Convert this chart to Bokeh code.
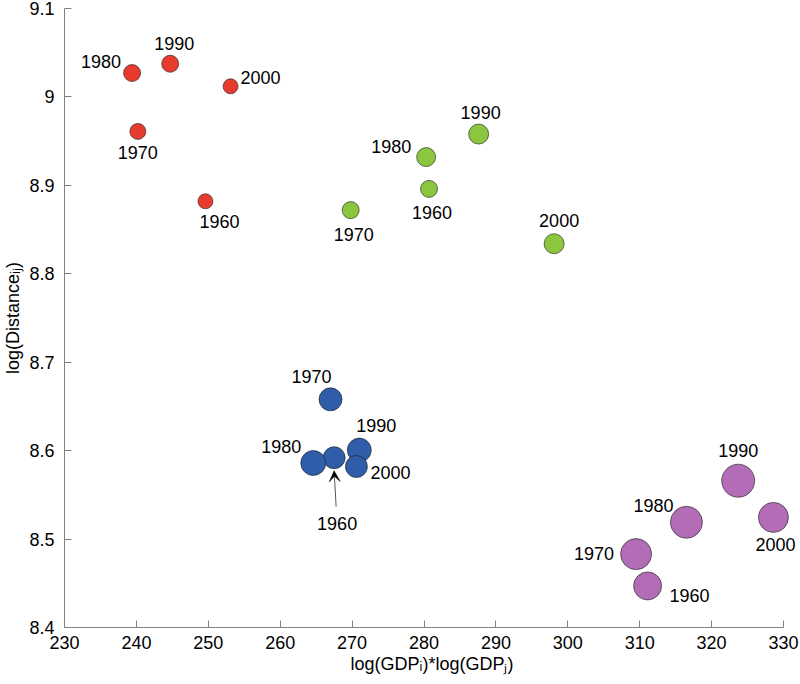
from bokeh.plotting import figure
from bokeh.models import (ColumnDataSource, LabelSet, FixedTicker,
                          Range1d, Arrow, VeeHead)
from bokeh.core.properties import value
from bokeh.embed import file_html
from bokeh.resources import INLINE

# ---------------- data ----------------
years = ["1960", "1970", "1980", "1990", "2000"]

red_x = [249.6, 240.2, 239.4, 244.7, 253.1]
red_y = [8.882, 8.961, 9.027, 9.0375, 9.012]
red_size = [15, 16, 17, 17, 15]

green_x = [280.7, 269.8, 280.3, 287.6, 298.1]
green_y = [8.896, 8.872, 8.932, 8.958, 8.834]
green_size = [17, 17, 19, 20, 20]

blue_x = [267.5, 267.0, 264.6, 271.0, 270.6]
blue_y = [8.592, 8.658, 8.586, 8.6006, 8.582]
blue_size = [22, 23, 25, 24, 22]

purple_x = [311.1, 309.5, 316.5, 323.7, 328.6]
purple_y = [8.447, 8.483, 8.519, 8.566, 8.5245]
purple_size = [28, 31, 32, 33, 30]

x_ticks = [230, 240, 250, 260, 270, 280, 290, 300, 310, 320, 330]
x_tick_labels = ["230", "240", "250", "260", "270", "280", "290", "300", "310", "320", "330"]
y_ticks = [8.4, 8.5, 8.6, 8.7, 8.8, 8.9, 9.0, 9.1]
y_tick_labels = ["8.4", "8.5", "8.6", "8.7", "8.8", "8.9", "9", "9.1"]

x_title = "log(GDP\u1d62)*log(GDP\u2c7c)"
y_title = "log(Distance\u1d62\u2c7c)"

# label offsets in pixels (dx right, dy down)
red_off = [(14, 20), (0, 21), (-31, -12), (4, -20), (30, -9)]
green_off = [(3, 24), (3, 24), (-35, -11), (2, -22), (5, -23)]
blue_off = [(3, 66), (-19, -23), (-32, -17), (17, -25), (34, 6)]
purple_off = [(42, 10), (-42, -1), (-33, -17), (0, -30), (2, 27)]

FONT = "Liberation Sans"
W, H = 800, 684
BL, BT, BB = 64, 8, 57
X0, X1, Y0, Y1 = 230, 330, 8.4, 9.1
PPX = 7.19                      # px per x unit of the reference
BR = 1
X_END = X0 + (W - BL - BR) / PPX  # frame extends past 330 so labels are not clipped

p = figure(width=W, height=H, x_range=Range1d(X0, X_END), y_range=Range1d(Y0, Y1),
           output_backend="svg", toolbar_location=None,
           min_border_left=BL, min_border_right=BR, min_border_top=BT, min_border_bottom=BB)
p.outline_line_color = None
p.grid.visible = False
p.background_fill_color = "white"
p.border_fill_color = "white"

p.xaxis.bounds = (X0, X1)
for ax, ticks, labels, standoff, title, tstand in (
        (p.xaxis[0], x_ticks, x_tick_labels, 8, x_title, 2),
        (p.yaxis[0], y_ticks, y_tick_labels, 10, y_title, 3)):
    ax.ticker = FixedTicker(ticks=ticks)
    ax.major_label_overrides = {t: l for t, l in zip(ticks, labels)}
    ax.axis_line_color = "#808080"
    ax.major_tick_line_color = "#808080"
    ax.major_tick_in = 7
    ax.major_tick_out = 0
    ax.minor_tick_line_color = None
    ax.major_label_text_font = FONT
    ax.major_label_text_font_size = "18px"
    ax.major_label_text_color = "black"
    ax.major_label_standoff = standoff
    ax.axis_label = title
    ax.axis_label_text_font = FONT
    ax.axis_label_text_font_size = "18px"
    ax.axis_label_text_font_style = "normal"
    ax.axis_label_text_color = "black"
    ax.axis_label_standoff = tstand

groups = [
    (red_x, red_y, red_size, red_off, "#E63B2E"),
    (green_x, green_y, green_size, green_off, "#8CC63F"),
    (blue_x, blue_y, blue_size, blue_off, "#2F5DAA"),
    (purple_x, purple_y, purple_size, purple_off, "#B36DB6"),
]

for gx, gy, gs, goff, col in groups:
    src = ColumnDataSource(dict(x=gx, y=gy, s=gs, year=years,
                                dx=[o[0] for o in goff], dy=[-o[1] for o in goff]))
    p.scatter("x", "y", size="s", source=src, fill_color=col,
              line_color="#1a1a1a", line_width=0.6)
    p.add_layout(LabelSet(x="x", y="y", text="year", x_offset="dx", y_offset="dy",
                          source=src, text_align="center", text_baseline="middle",
                          text_font=value(FONT), text_font_size=value("18px"),
                          text_color="black"))

# arrow pointing at blue 1960
ppy = (H - BT - BB) / (Y1 - Y0)
bx, by = blue_x[0], blue_y[0]
p.add_layout(Arrow(x_start=bx + 2 / PPX, y_start=by - 49 / ppy,
                   x_end=bx, y_end=by - (blue_size[0] / 2 + 2) / ppy,
                   line_color="#555555", line_width=1,
                   end=VeeHead(size=11, fill_color="black", line_color="black", line_width=0.5)))

open("out.html", "w").write(file_html(p, INLINE))
